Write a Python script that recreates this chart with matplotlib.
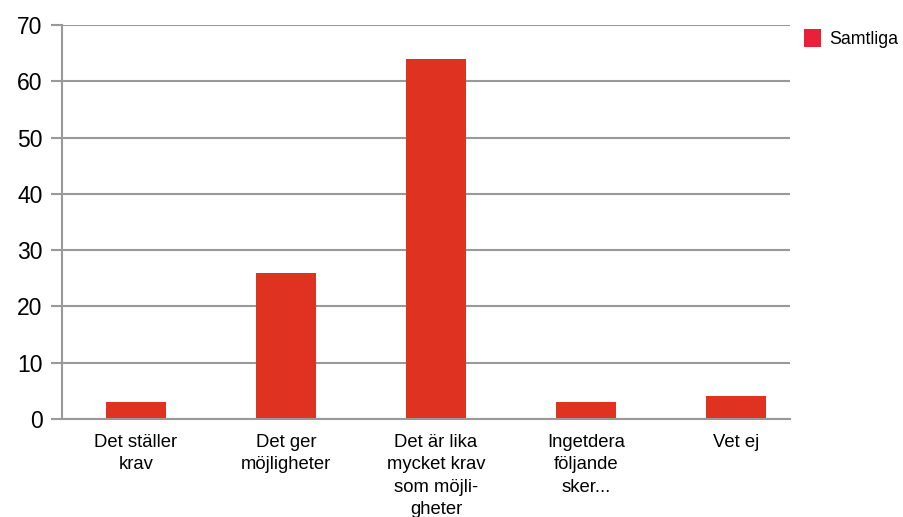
import matplotlib
matplotlib.use("Agg")
import matplotlib.pyplot as plt
from matplotlib.patches import Patch

plt.rcParams['font.family'] = ['Liberation Sans', 'DejaVu Sans']

# Data
categories = ['Det ställer\nkrav', 'Det ger\nmöjligheter', 'Det är lika\nmycket krav\nsom möjli-\ngheter',
              'Ingetdera\nföljande\nsker...', 'Vet ej']
values = [3, 26, 64, 3, 4]
series_name = 'Samtliga'
yticks = [0, 10, 20, 30, 40, 50, 60, 70]

bar_color = '#e03220'
legend_color = '#e8203a'
grid_color = '#999999'

fig = plt.figure(figsize=(9.04, 5.17), dpi=100)
ax = fig.add_axes([62 / 904, 1 - 419 / 517, (790 - 62) / 904, (419 - 25) / 517])

x = list(range(len(categories)))
ax.bar(x, values, width=0.4, color=bar_color, zorder=3)

ax.set_ylim(0, 70)
ax.set_xlim(-0.493, 4.36)
ax.set_yticks(yticks)
ax.yaxis.grid(True, color=grid_color, linewidth=1.5, zorder=0)
ax.set_xticks(x)
ax.set_xticklabels(categories, fontsize=13.3, linespacing=1.4, va='top')
ax.tick_params(axis='x', length=0, pad=11)
ax.tick_params(axis='y', length=8, width=1.5, color=grid_color, labelsize=16.5, pad=6)

for side in ['top', 'right', 'bottom']:
    ax.spines[side].set_visible(False)
ax.spines['left'].set_color(grid_color)
ax.spines['left'].set_linewidth(1.5)
ax.spines['left'].set_zorder(4)
# bottom grid line (y=0) drawn as a line
ax.axhline(0, color=grid_color, linewidth=1.5, zorder=4, clip_on=False)

handles = [Patch(facecolor=legend_color, label=series_name)]
fig.legend(handles=handles, loc='upper left', bbox_to_anchor=(797 / 904, 1 - 22 / 517),
           frameon=False, fontsize=12.8, handlelength=0.95, handleheight=1.2, handletextpad=0.45,
           borderaxespad=0)

fig.savefig('out.png', dpi=100)
